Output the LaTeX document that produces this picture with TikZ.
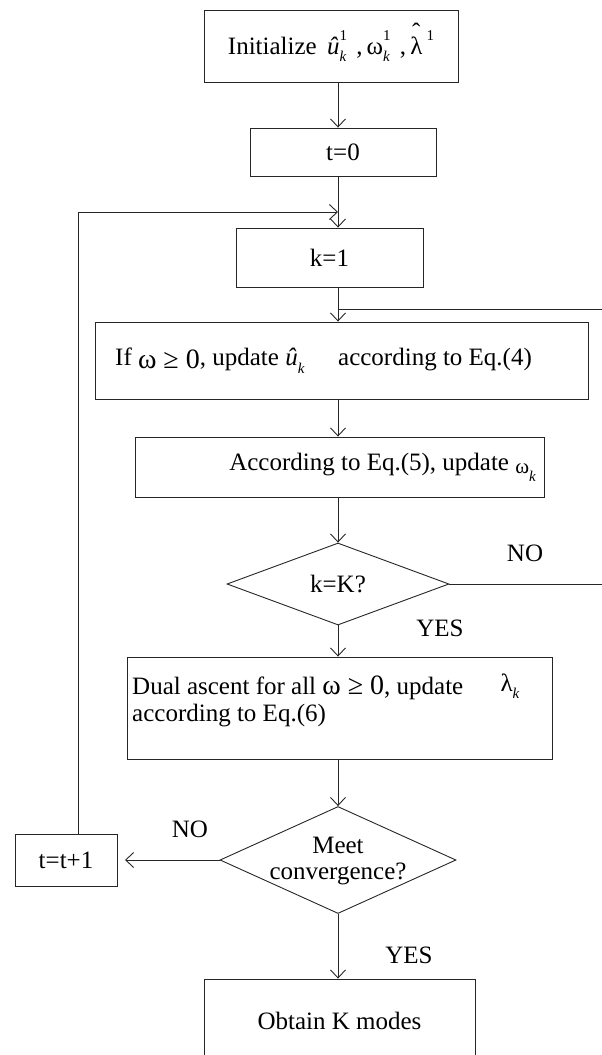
\documentclass[tikz,border=0pt]{standalone}
\usepackage{fontspec}
\setmainfont{Liberation Serif}
\usetikzlibrary{arrows.meta,shapes.geometric}
\newcommand\supsubx[2]{\makebox[0pt][l]{\raisebox{0.55em}{\fontsize{15}{15}\selectfont #1}}\raisebox{-0.3em}{\fontsize{15}{15}\selectfont\itshape #2}}
\newcommand\subx[1]{\raisebox{-0.3em}{\fontsize{15}{15}\selectfont\itshape #1}}
\newcommand\hatlam{\ooalign{λ\cr\hidewidth\raisebox{0.55em}{\char"02C6}\hidewidth\cr}}
\newcommand\bigw[1]{{\fontsize{28}{28}\selectfont #1}}
\begin{document}
\begin{tikzpicture}[x=1pt,y=-1pt,
  font=\fontsize{25}{30}\selectfont,
  box/.style={draw=black!85, line width=0.9pt, inner sep=0pt, rectangle},
  dia/.style={draw=black!85, line width=0.9pt, diamond, inner sep=0pt},
  txt/.style={inner sep=0pt},
  arr/.style={draw=black!85, line width=0.9pt, -{Straight Barb[length=8pt,width=15pt]}},
  ln/.style={draw=black!85, line width=0.9pt}]
\useasboundingbox (0,0) rectangle (602,1055);
\clip (0,0) rectangle (602,1055);
\coordinate (axis) at (338,0);
% boxes
\node[box, minimum width=254pt, minimum height=72pt] (init) at (331,46)
  {Initialize \,\textit{û}\supsubx{1}{k}\hspace{0.4em},\,ω\supsubx{1}{k}\hspace{0.4em},\,\hatlam\,\raisebox{0.55em}{\fontsize{15}{15}\selectfont 1}};
\node[box, minimum width=186pt, minimum height=48pt] (t0) at (343,152) {t=0};
\node[box, minimum width=187pt, minimum height=59pt] (k1) at (329.5,257.5) {k=1};
\node[box, minimum width=493pt, minimum height=77pt] (if) at (341.5,360.5) {};
\node[txt, anchor=west] (iftxt) at (115,360.5)
  {If \raisebox{-0.12em}{\bigw{ω ≥ 0}}, update \textit{û}\subx{k}\hspace{1.1em} according to Eq.(4)};
\node[box, minimum width=409pt, minimum height=60pt] (eq5) at (339.5,467) {};
\node[txt, anchor=east] (eq5txt) at (536,467)
  {According to Eq.(5), update \raisebox{-0.15em}{{\fontsize{21}{21}\selectfont ω}\subx{k}}};
\node[dia, minimum width=222pt, minimum height=82pt] (d1) at (338,584) {};
\node[txt] (d1txt) at (338,584) {k=K?};
\node[box, minimum width=425pt, minimum height=102pt] (dual) at (339.5,708) {};
\node[txt, anchor=north west, align=left] (dualtxt) at (132,676)
  {Dual ascent for all \bigw{ω ≥ 0}, update\\[-3pt] according to Eq.(6)};
\node[txt] (lam) at (510,686) {λ\subx{k}};
\node[dia, minimum width=236pt, minimum height=107pt] (d2) at (338,860) {};
\node[txt, align=center] (d2txt) at (338,861) {Meet\\[-4pt] convergence?};
\node[box, minimum width=102pt, minimum height=52pt] (tt) at (66,860) {t=t+1};
\node[box, minimum width=271pt, minimum height=100pt] (obt) at (339.5,1029) {};
\node[txt] (obttxt) at (339.5,1021) {Obtain K modes};
% labels
\node[txt] (no1) at (525,553) {NO};
\node[txt] (yes1) at (440,628) {YES};
\node[txt] (no2) at (190,829) {NO};
\node[txt] (yes2) at (409,955) {YES};
% connectors
\draw[arr] (init.south -| axis) -- (t0.north -| axis);
\draw[arr] (t0.south -| axis) -- (k1.north -| axis);
\draw[arr] (k1.south -| axis) -- (if.north -| axis);
\draw[arr] (if.south -| axis) -- (eq5.north -| axis);
\draw[arr] (eq5.south -| axis) -- (d1.north);
\draw[arr] (d1.south) -- (dual.north -| axis);
\draw[arr] (dual.south -| axis) -- (d2.north);
\draw[arr] (d2.south) -- (obt.north -| axis);
\coordinate (noend) at (125,860);
\draw[arr] (d2.west) -- (noend);
\coordinate (fbin) at (338,212);
\draw[arr] ([xshift=12pt]tt.north) |- (fbin);
\coordinate (rin) at (338,309);
\coordinate (redge) at (602,309);
\draw[ln] (redge) -- (rin);
\coordinate (nor) at (602,584);
\draw[ln] (d1.east) -- (nor);
\end{tikzpicture}
\end{document}
